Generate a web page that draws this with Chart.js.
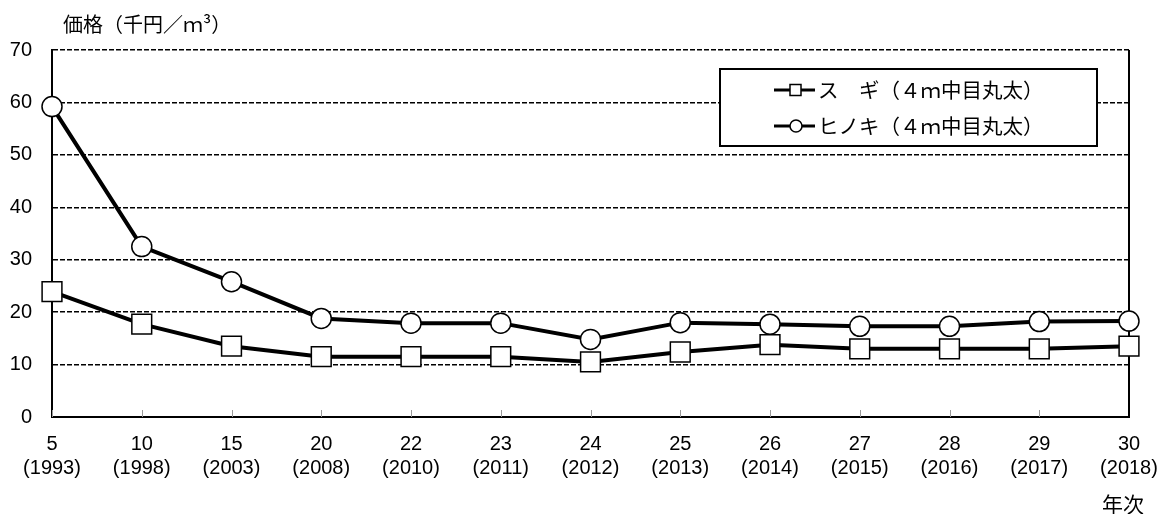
<!DOCTYPE html>
<html><head><meta charset="utf-8">
<script src="https://cdn.jsdelivr.net/npm/chart.js@4.4.0/dist/chart.umd.min.js"></script>
<style>html,body{margin:0;padding:0;background:#fff}#wrap{width:1160px;height:514px;position:relative}</style>
</head><body><div id="wrap"><canvas id="c" width="1160" height="514"></canvas></div>
<script>
const eraYears = ['5','10','15','20','22','23','24','25','26','27','28','29','30'];
const westernYears = ['1993','1998','2003','2008','2010','2011','2012','2013','2014','2015','2016','2017','2018'];
const sugi = [23.9,17.7,13.5,11.5,11.5,11.5,10.5,12.4,13.8,13.0,13.0,13.0,13.5];
const hinoki = [59.2,32.5,25.8,18.8,17.9,17.9,14.8,18.0,17.7,17.3,17.3,18.2,18.3];
const yMin = 0, yMax = 70, yStep = 10;
const seriesNames = ['ス　ギ（４ｍ中目丸太）','ヒノキ（４ｍ中目丸太）'];
const yTitle = '価格（千円／ｍ³）';
const xTitle = '年次';

const labels = eraYears.map((e,i)=>[e,'('+westernYears[i]+')']);
const CJK = "'Noto Sans CJK JP','Noto Sans CJK SC',sans-serif";
const NUM = "'Liberation Sans',Arial,sans-serif";

const decor = {
  id:'decor',
  beforeDatasetsDraw(chart){
    const {ctx, chartArea:a, scales:{x}} = chart;
    ctx.save();
    ctx.strokeStyle='#999'; ctx.lineWidth=1;
    x.ticks.forEach((t,i)=>{
      const px = Math.round(x.getPixelForTick(i))+0.5;
      ctx.beginPath(); ctx.moveTo(px,a.bottom); ctx.lineTo(px,a.bottom-7); ctx.stroke();
    });
    ctx.strokeStyle='#000'; ctx.lineWidth=2;
    ctx.beginPath(); ctx.moveTo(a.right,a.top); ctx.lineTo(a.right,a.bottom+1); ctx.stroke();
    ctx.restore();
  },
  afterDraw(chart){
    const {ctx} = chart;
    ctx.save();
    ctx.fillStyle='#000';
    ctx.textBaseline='middle';
    ctx.font='20px '+CJK;
    ctx.textAlign='left';
    ctx.fillText(yTitle, 63, 24);
    ctx.font='21px '+CJK;
    ctx.fillText(xTitle, 1102, 504);
    // legend box
    const bx=720, by=69, bw=377, bh=77;
    ctx.fillStyle='#fff';
    ctx.fillRect(bx,by,bw,bh);
    ctx.strokeStyle='#000'; ctx.lineWidth=2;
    ctx.strokeRect(bx,by,bw,bh);
    const rows=[90,126];
    chart.data.datasets.forEach((ds,i)=>{
      const y=rows[i];
      ctx.strokeStyle='#000'; ctx.lineWidth=3;
      ctx.beginPath(); ctx.moveTo(774,y); ctx.lineTo(815,y); ctx.stroke();
      ctx.fillStyle='#fff'; ctx.lineWidth=1.5;
      if(ds.pointStyle==='rect'){
        ctx.fillRect(790,y-5.5,11,11); ctx.strokeRect(790,y-5.5,11,11);
      } else {
        ctx.beginPath(); ctx.arc(796,y,6,0,Math.PI*2); ctx.fill(); ctx.stroke();
      }
      ctx.fillStyle='#000';
      ctx.font='20.5px '+CJK;
      ctx.textAlign='left';
      ctx.fillText(ds.label, 818, y);
    });
    ctx.restore();
  }
};

new Chart(document.getElementById('c'), {
  type:'line',
  data:{
    labels,
    datasets:[
      {label:seriesNames[0], data:sugi, borderColor:'#000', borderWidth:4, tension:0,
       pointStyle:'rect', pointRadius:14, pointBackgroundColor:'#fff', pointBorderColor:'#000', pointBorderWidth:1.5, clip:false},
      {label:seriesNames[1], data:hinoki, borderColor:'#000', borderWidth:4, tension:0,
       pointStyle:'circle', pointRadius:10, pointBackgroundColor:'#fff', pointBorderColor:'#000', pointBorderWidth:1.5, clip:false}
    ]
  },
  options:{
    responsive:false, animation:false, devicePixelRatio:1,
    events:[],
    layout:{padding:{top:50,right:31,left:0,bottom:0}},
    plugins:{legend:{display:false}, tooltip:{enabled:false}, title:{display:false}},
    scales:{
      x:{
        offset:false,
        grid:{display:false, drawTicks:false},
        border:{display:true, width:2, color:'#000'},
        ticks:{color:'#000', font:{family:NUM, size:20, lineHeight:1.22}, padding:15, maxRotation:0, autoSkip:false},
        afterFit(s){ s.height = 97; s.paddingLeft = 0; s.paddingRight = 0; }
      },
      y:{
        min:yMin, max:yMax,
        grid:{color:c=>c.tick && c.tick.value===0 ? 'rgba(0,0,0,0)' : '#000', lineWidth:1.5, drawTicks:false},
        border:{display:true, width:2, color:'#000', dash:[5,2]},
        ticks:{stepSize:yStep, color:'#000', font:{family:NUM, size:20}, padding:20},
        afterFit(s){ s.width = 52; }
      }
    }
  },
  plugins:[decor]
});
</script></body></html>
